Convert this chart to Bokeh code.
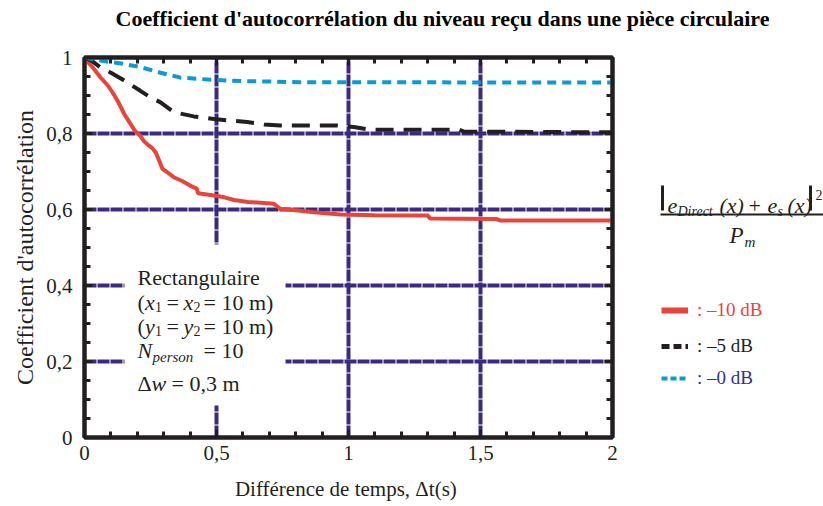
from bokeh.plotting import figure
from bokeh.layouts import column, row
from bokeh.models import (Range1d, FixedTicker, LinearAxis, Label, BoxAnnotation,
                          Legend, LegendItem)
from bokeh.core.properties import value
from bokeh.embed import file_html
from bokeh.resources import INLINE

# ---------------- data ----------------
red_t = [0, 0.01, 0.03, 0.06, 0.09, 0.11, 0.13, 0.15, 0.17, 0.19, 0.21, 0.225, 0.24, 0.256,
         0.27, 0.285, 0.295, 0.31, 0.338, 0.37, 0.40, 0.425, 0.43, 0.49, 0.53, 0.566, 0.62,
         0.68, 0.717, 0.742, 0.80, 0.869, 0.97, 1.10, 1.30, 1.31, 1.56, 1.576, 2.0]
red_v = [1.01, 0.99, 0.975, 0.948, 0.925, 0.904, 0.88, 0.852, 0.83, 0.808, 0.795, 0.78, 0.77,
         0.762, 0.75, 0.725, 0.707, 0.70, 0.685, 0.675, 0.663, 0.655, 0.643, 0.637, 0.632,
         0.625, 0.62, 0.617, 0.615, 0.602, 0.598, 0.593, 0.587, 0.585, 0.584, 0.576, 0.575,
         0.571, 0.571]

black_t = [0, 0.03, 0.06, 0.10, 0.149, 0.21, 0.25, 0.288, 0.338, 0.414, 0.49, 0.553, 0.616,
           0.68, 0.742, 0.957, 1.02, 1.083, 1.42, 1.437, 2.0]
black_v = [1.0, 0.99, 0.974, 0.96, 0.94, 0.913, 0.895, 0.882, 0.856, 0.845, 0.838, 0.834,
           0.83, 0.824, 0.821, 0.821, 0.817, 0.81, 0.81, 0.805, 0.803]

blue_t = [0, 0.05, 0.10, 0.149, 0.21, 0.288, 0.364, 0.49, 0.6, 0.818, 1.2, 1.6, 2.0]
blue_v = [1.0, 0.993, 0.988, 0.983, 0.975, 0.96, 0.947, 0.941, 0.938, 0.935, 0.935, 0.934, 0.934]

x_ticks = [0, 0.5, 1, 1.5, 2]
x_tick_labels = ["0", "0,5", "1", "1,5", "2"]
y_ticks = [0, 0.2, 0.4, 0.6, 0.8, 1.0]
y_tick_labels = ["0", "0,2", "0,4", "0,6", "0,8", "1"]
x_minor = [0.1, 0.2, 0.3, 0.4, 0.6, 0.7, 0.8, 0.9, 1.1, 1.2, 1.3, 1.4, 1.6, 1.7, 1.8, 1.9]
y_minor = [0.05, 0.1, 0.15, 0.25, 0.3, 0.35, 0.45, 0.5, 0.55, 0.65, 0.7, 0.75, 0.85, 0.9, 0.95]
x_grid = [0.5, 1, 1.5]
y_grid = [0.2, 0.4, 0.6, 0.8]

series_names = [": \u201310 dB", ": \u20135 dB", ": \u20130 dB"]

title_text = "Coefficient d'autocorr\u00e9lation du niveau re\u00e7u dans une pi\u00e8ce circulaire"
x_label = "Diff\u00e9rence de temps,  \u0394t(s)"
y_label = "Coefficient d'autocorr\u00e9lation"

# ---------------- style ----------------
FONT = "Liberation Serif"
DARK = "#231f20"
RED = "#e8443a"
BLUE = "#0a9ad8"
NAVY = "#2e3192"
GRID = "#3c2a7e"

RED_STYLE = dict(line_color=RED, line_width=4)
BLACK_STYLE = dict(line_color=DARK, line_width=4, line_dash="18 10")
BLUE_STYLE = dict(line_color=BLUE, line_width=4, line_dash="9 6")

W, H = 823, 506
TITLE_H = 40
MAIN_W = 622
FL, FR, FT, FB = 84, 612, 57, 437   # plot frame in page pixels
NAN = float("nan")


def dx(px):
    return (px - FL) / (FR - FL) * 2.0


def dy(py):
    return (FB - py) / (FB - FT)


# ---------------- title strip ----------------
tfig = figure(width=W, height=TITLE_H, x_range=Range1d(0, W), y_range=Range1d(TITLE_H, 0),
              output_backend="svg", toolbar_location=None, min_border=0,
              x_axis_location=None, y_axis_location=None)
tfig.outline_line_color = None
tfig.grid.visible = False
tfig.text(x=[442], y=[18], text=[title_text], text_font=value(FONT), text_font_size="22px",
          text_font_style="bold", text_color="black", text_align="center",
          text_baseline="middle")

# ---------------- main plot ----------------
p = figure(width=MAIN_W, height=H - TITLE_H, x_range=Range1d(0, 2), y_range=Range1d(0, 1),
           output_backend="svg", toolbar_location=None,
           min_border_left=FL, min_border_right=MAIN_W - FR,
           min_border_top=FT - TITLE_H, min_border_bottom=H - FB)
p.outline_line_color = DARK
p.outline_line_width = 4

p.xgrid.ticker = FixedTicker(ticks=x_grid)
p.ygrid.ticker = FixedTicker(ticks=y_grid)
for g in (p.xgrid, p.ygrid):
    g.grid_line_color = GRID
    g.grid_line_width = 4
    g.grid_line_dash = "12 1"


def style_axis(ax, ticks, minor, labels, show_labels=True):
    ax.ticker = FixedTicker(ticks=ticks, minor_ticks=minor)
    ax.axis_line_color = DARK
    ax.axis_line_width = 4
    ax.major_tick_in = 8
    ax.major_tick_out = 0
    ax.minor_tick_in = 6
    ax.minor_tick_out = 0
    ax.major_tick_line_width = 3
    ax.minor_tick_line_width = 3
    ax.major_tick_line_color = DARK
    ax.minor_tick_line_color = DARK
    ax.major_label_overrides = dict(zip(ticks, labels))
    ax.major_label_text_font = FONT
    ax.major_label_text_font_size = "21px" if show_labels else "1px"
    ax.major_label_text_color = DARK if show_labels else None
    ax.axis_label_text_font = FONT
    ax.axis_label_text_font_style = "normal"
    ax.axis_label_text_color = DARK


style_axis(p.xaxis[0], x_ticks, x_minor, x_tick_labels)
style_axis(p.yaxis[0], y_ticks, y_minor, y_tick_labels)
p.xaxis[0].axis_label = x_label
p.yaxis[0].axis_label = y_label
p.xaxis[0].axis_label_text_font_size = "21px"
p.yaxis[0].axis_label_text_font_size = "24px"
p.xaxis[0].major_label_standoff = 8
p.xaxis[0].axis_label_standoff = 14
p.yaxis[0].major_label_standoff = 12
p.yaxis[0].axis_label_standoff = 5

top_ax = LinearAxis()
right_ax = LinearAxis()
style_axis(top_ax, x_ticks, x_minor, x_tick_labels, show_labels=False)
style_axis(right_ax, y_ticks, y_minor, y_tick_labels, show_labels=False)
top_ax.major_label_standoff = 0
right_ax.major_label_standoff = 0
p.add_layout(top_ax, "above")
p.add_layout(right_ax, "right")

r_red = p.line(red_t, red_v, **RED_STYLE)
r_black = p.line(black_t, black_v, **BLACK_STYLE)
r_blue = p.line(blue_t, blue_v, **BLUE_STYLE)

p.add_layout(BoxAnnotation(left=dx(124), right=dx(285), bottom=dy(405), top=dy(244),
                           fill_color="white", fill_alpha=1.0, line_color=None))


def lab(px, py, text, size="22px", style="normal"):
    p.add_layout(Label(x=dx(px), y=dy(py), text=text, text_font=FONT, text_font_size=size,
                       text_font_style=style, text_color=DARK, text_align="left",
                       text_baseline="alphabetic"))


# annotation block (baselines in page pixels)
lab(137, 277, "Rectangulaire")
for base, var in ((302, "x"), (326, "y")):
    lab(137, base, "(")
    lab(144.5, base, var, style="italic")
    lab(154.5, base + 4, "1", size="14px")
    lab(166, base, "=")
    lab(183, base, var, style="italic")
    lab(193, base + 4, "2", size="14px")
    lab(203, base, "= 10 m)")
lab(137, 350, "N", style="italic")
lab(152, 356, "person", size="15px", style="italic")
lab(203, 350, "= 10")
lab(137, 383, "\u0394")
lab(151, 383, "w", style="italic")
lab(171, 383, "= 0,3 m")

# ---------------- right-hand side panel ----------------
# in a row the plot frames are aligned, so this panel's frame spans page y FT..FB
side = figure(width=W - MAIN_W, height=H - TITLE_H, x_range=Range1d(MAIN_W, W),
              y_range=Range1d(FB, FT), output_backend="svg", toolbar_location=None,
              min_border=0, x_axis_location=None, y_axis_location=None)
side.outline_line_color = None
side.grid.visible = False


def stext(px, py, text, size="22px", style="italic", base="alphabetic", align="left"):
    side.text(x=[px], y=[py], text=[text], text_font=value(FONT), text_font_size=size,
              text_font_style=style, text_color=DARK, text_align=align, text_baseline=base)


# formula |e_Direct(x) + e_s(x)|^2 / P_m
FY = 205   # numerator baseline
side.segment(x0=[662, 810], y0=[FY - 20, FY - 20], x1=[662, 810], y1=[FY + 5, FY + 5],
             line_color=DARK, line_width=3)
stext(667, FY, "e")
stext(677, FY + 6, "Direct", size="14px")
stext(719, FY, "(x)")
stext(748, FY, "+", style="normal")
stext(767, FY, "e")
stext(777, FY + 6, "s", size="14px")
stext(787, FY, "(x)")
stext(815, FY - 11, "2", size="14px", style="normal")
side.segment(x0=[660], y0=[FY + 9], x1=[823], y1=[FY + 9], line_color=DARK, line_width=2)
stext(729, FY + 30, "P", size="23px")
stext(744, FY + 36, "m", size="15px")

# legend (one per series so that each label keeps its own colour)
lg_red = side.line([NAN], [NAN], line_color=RED, line_width=6)
lg_black = side.line([NAN], [NAN], line_color=DARK, line_width=5, line_dash="8 4")
lg_blue = side.line([NAN], [NAN], line_color=BLUE, line_width=4, line_dash="6 3")
for r, name, col, cy in ((lg_red, series_names[0], RED, 311),
                         (lg_black, series_names[1], DARK, 347),
                         (lg_blue, series_names[2], NAVY, 379)):
    lg = Legend(items=[LegendItem(label=name, renderers=[r])],
                location=(661 - MAIN_W, FB - (cy + 10)), orientation="vertical",
                padding=0, margin=0, border_line_color=None, background_fill_alpha=0,
                glyph_width=27, glyph_height=20, label_height=20, label_standoff=9,
                label_text_font=FONT, label_text_font_size="19px", label_text_color=col)
    side.add_layout(lg, "center")

layout = column(tfig, row(p, side, spacing=0), spacing=0)
open("out.html", "w").write(file_html(layout, INLINE))
